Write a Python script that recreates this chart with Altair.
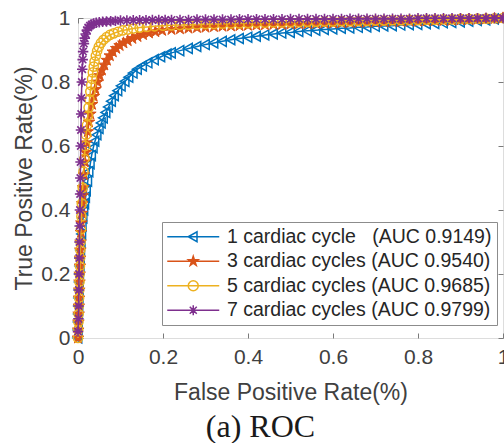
import altair as alt
import pandas as pd

# ---- series names, AUC values and colours ----
SERIES = ["1 cardiac cycle", "3 cardiac cycles", "5 cardiac cycles", "7 cardiac cycles"]
AUC = ["0.9149", "0.9540", "0.9685", "0.9799"]
GAP = ["\u00a0\u00a0\u00a0", " ", " ", " "]
COLORS = ["#0072BD", "#D95319", "#EDB120", "#7E2F8E"]
TICKS = [0, 0.2, 0.4, 0.6, 0.8, 1]

# ---- ROC points: steep/knee section of each curve ----
FPR_1 = [0, 0.0005, 0.001, 0.0015, 0.002, 0.0025, 0.003, 0.0035, 0.004, 0.005,
         0.0055, 0.0065, 0.0075, 0.009, 0.010, 0.012, 0.014, 0.016, 0.018, 0.020,
         0.023, 0.026, 0.029, 0.032, 0.036, 0.040, 0.045, 0.050, 0.055, 0.060,
         0.066, 0.072, 0.079, 0.086, 0.094, 0.102, 0.111, 0.120, 0.130, 0.140,
         0.152, 0.165, 0.180, 0.195, 0.210]
TPR_1 = [0, 0.025, 0.05, 0.075, 0.10, 0.125, 0.15, 0.175, 0.20, 0.225,
         0.25, 0.275, 0.30, 0.325, 0.35, 0.375, 0.40, 0.42, 0.44, 0.46,
         0.49, 0.52, 0.545, 0.57, 0.595, 0.615, 0.635, 0.655, 0.672, 0.688,
         0.705, 0.722, 0.74, 0.757, 0.773, 0.788, 0.802, 0.815, 0.828, 0.84,
         0.85, 0.86, 0.87, 0.879, 0.887]

FPR_3 = [0, 0.0005, 0.001, 0.0015, 0.002, 0.0025, 0.003, 0.0035, 0.004, 0.0045,
         0.005, 0.0055, 0.006, 0.007, 0.008, 0.009, 0.010, 0.011, 0.012, 0.014,
         0.016, 0.018, 0.020, 0.023, 0.026, 0.029, 0.033, 0.037, 0.041, 0.046,
         0.051, 0.056, 0.062, 0.068, 0.075, 0.082, 0.090, 0.098, 0.107, 0.117,
         0.128, 0.140, 0.153, 0.167, 0.182, 0.198]
TPR_3 = [0, 0.025, 0.05, 0.075, 0.10, 0.125, 0.15, 0.175, 0.20, 0.225,
         0.25, 0.275, 0.30, 0.33, 0.36, 0.39, 0.42, 0.445, 0.47, 0.51,
         0.55, 0.58, 0.61, 0.645, 0.675, 0.70, 0.73, 0.755, 0.777, 0.80,
         0.82, 0.837, 0.853, 0.868, 0.882, 0.894, 0.905, 0.914, 0.922, 0.929,
         0.936, 0.942, 0.948, 0.953, 0.957, 0.961]

FPR_5 = [0, 0.0005, 0.001, 0.0015, 0.002, 0.0025, 0.003, 0.0035, 0.004, 0.0045,
         0.005, 0.0055, 0.006, 0.007, 0.008, 0.009, 0.011, 0.013, 0.015, 0.017,
         0.019, 0.021, 0.023, 0.025, 0.027, 0.029, 0.031, 0.033, 0.035, 0.037,
         0.039, 0.042, 0.045, 0.049, 0.054, 0.060, 0.067, 0.075, 0.084, 0.094,
         0.105, 0.117, 0.130, 0.145, 0.162, 0.180, 0.200]
TPR_5 = [0, 0.025, 0.05, 0.075, 0.10, 0.125, 0.15, 0.175, 0.20, 0.225,
         0.25, 0.275, 0.30, 0.34, 0.38, 0.42, 0.47, 0.52, 0.56, 0.60,
         0.635, 0.665, 0.695, 0.72, 0.745, 0.77, 0.79, 0.81, 0.83, 0.848,
         0.864, 0.882, 0.897, 0.91, 0.922, 0.932, 0.94, 0.947, 0.952, 0.957,
         0.961, 0.964, 0.967, 0.97, 0.972, 0.974, 0.976]

FPR_7 = [0, 0.001, 0.0015, 0.002, 0.0025, 0.003, 0.0035, 0.004, 0.0045, 0.005,
         0.0055, 0.006, 0.0065, 0.007, 0.0075, 0.008, 0.009, 0.010, 0.011, 0.012,
         0.014, 0.016, 0.018, 0.021, 0.024, 0.028, 0.032, 0.037, 0.043, 0.050,
         0.058, 0.067, 0.077, 0.088, 0.100, 0.115, 0.130, 0.145, 0.160, 0.175,
         0.190, 0.205]
TPR_7 = [0.02, 0.06, 0.10, 0.15, 0.20, 0.25, 0.30, 0.35, 0.40, 0.45,
         0.50, 0.55, 0.60, 0.65, 0.70, 0.75, 0.80, 0.84, 0.87, 0.895,
         0.92, 0.937, 0.95, 0.962, 0.970, 0.976, 0.980, 0.983, 0.985, 0.987,
         0.988, 0.989, 0.990, 0.991, 0.992, 0.992, 0.993, 0.993, 0.993, 0.994,
         0.994, 0.994]

# ---- flat upper section, shared false-positive grid ----
TAIL_FPR = [0.22, 0.24, 0.26, 0.28, 0.30, 0.32, 0.34, 0.36, 0.38, 0.40,
            0.42, 0.44, 0.46, 0.48, 0.50, 0.52, 0.54, 0.56, 0.58, 0.60,
            0.62, 0.64, 0.66, 0.68, 0.70, 0.72, 0.74, 0.76, 0.78, 0.80,
            0.82, 0.84, 0.86, 0.88, 0.90, 0.92, 0.94, 0.96, 0.98, 1.00]
TAIL_TPR_1 = [0.891, 0.898, 0.905, 0.911, 0.917, 0.922, 0.927, 0.932, 0.936, 0.940,
              0.943, 0.947, 0.950, 0.953, 0.955, 0.958, 0.960, 0.962, 0.964, 0.966,
              0.968, 0.969, 0.971, 0.972, 0.974, 0.975, 0.976, 0.978, 0.979, 0.980,
              0.982, 0.983, 0.985, 0.986, 0.988, 0.990, 0.992, 0.994, 0.997, 1.000]
TAIL_TPR_3 = [0.964, 0.966, 0.968, 0.970, 0.971, 0.973, 0.974, 0.975, 0.976, 0.977,
              0.978, 0.979, 0.980, 0.980, 0.981, 0.982, 0.982, 0.983, 0.984, 0.984,
              0.985, 0.986, 0.986, 0.987, 0.987, 0.988, 0.989, 0.989, 0.990, 0.990,
              0.991, 0.992, 0.992, 0.993, 0.994, 0.995, 0.996, 0.997, 0.998, 1.000]
TAIL_TPR_5 = [0.977, 0.978, 0.979, 0.980, 0.981, 0.981, 0.982, 0.983, 0.983, 0.984,
              0.985, 0.985, 0.986, 0.986, 0.987, 0.987, 0.988, 0.988, 0.989, 0.989,
              0.990, 0.990, 0.991, 0.991, 0.992, 0.992, 0.993, 0.993, 0.994, 0.994,
              0.995, 0.995, 0.996, 0.996, 0.997, 0.997, 0.998, 0.998, 0.999, 1.000]
TAIL_TPR_7 = [0.994, 0.994, 0.994, 0.995, 0.995, 0.995, 0.995, 0.995, 0.996, 0.996,
              0.996, 0.996, 0.996, 0.996, 0.997, 0.997, 0.997, 0.997, 0.997, 0.997,
              0.997, 0.998, 0.998, 0.998, 0.998, 0.998, 0.998, 0.998, 0.998, 0.999,
              0.999, 0.999, 0.999, 0.999, 0.999, 0.999, 0.999, 1.000, 1.000, 1.000]

HEADS = [(FPR_1, TPR_1), (FPR_3, TPR_3), (FPR_5, TPR_5), (FPR_7, TPR_7)]
TAILS = [TAIL_TPR_1, TAIL_TPR_3, TAIL_TPR_5, TAIL_TPR_7]

LABELS = [f"{s}{g}(AUC {a})" for s, g, a in zip(SERIES, GAP, AUC)]

rows = []
for label, (hf, ht), tt in zip(LABELS, HEADS, TAILS):
    for k, (f, t) in enumerate(zip(hf + TAIL_FPR, ht + tt)):
        rows.append({"series": label, "fpr": f, "tpr": t, "idx": k})
df = pd.DataFrame(rows)

# ---- marker glyphs (unit-square SVG paths) ----
TRI = "M-1,0L0.75,-1L0.75,1Z"
STAR = ("M0,-1L0.225,-0.309L0.951,-0.309L0.363,0.118L0.588,0.809L0,0.382"
        "L-0.588,0.809L-0.363,0.118L-0.951,-0.309L-0.225,-0.309Z")
STAR_IN = ("M0,-0.5L0.11,-0.15L0.48,-0.15L0.18,0.06L0.29,0.4L0,0.19"
           "L-0.29,0.4L-0.18,0.06L-0.48,-0.15L-0.11,-0.15Z")
CIRC = "M1,0A1,1 0 1,1 -1,0A1,1 0 1,1 1,0Z"
AST = "M0,-1V1M-1,0H1M-0.7,-0.7L0.7,0.7M-0.7,0.7L0.7,-0.7"
SEG = "M-5.2,0H5.2"
LEGEND_SHAPES = [SEG + TRI, SEG + STAR + STAR_IN, SEG + CIRC, SEG + AST]

MARKS = [
    dict(shape=TRI, size=100, filled=False, strokeWidth=1.5),
    dict(shape=STAR, size=150, filled=True, strokeWidth=1.0),
    dict(shape="circle", size=85, filled=False, strokeWidth=1.5),
    dict(shape=AST, size=110, filled=False, strokeWidth=1.6),
]

SANS = "Liberation Sans"
GRID = "#7a7a7a"
unit = alt.Scale(domain=[0, 1], nice=False, zero=False)

x_axis = alt.Axis(orient="bottom", values=TICKS, format="~g", labelFlush=False,
                  labelOverlap=False, ticks=False, tickSize=0, domain=False,
                  grid=True, gridDash=[5, 2000], gridColor=GRID, gridWidth=1,
                  labelFont=SANS, labelFontSize=21, labelColor="#404040",
                  labelPadding=8, title="False Positive Rate(%)", titleFont=SANS,
                  titleFontSize=23, titleFontWeight="normal", titleColor="#404040",
                  titleY=61, titleBaseline="alphabetic")
y_axis = alt.Axis(orient="left", values=TICKS, format="~g", labelFlush=False,
                  labelOverlap=False, ticks=False, tickSize=0, domain=False,
                  grid=True, gridDash=[5, 2000], gridColor=GRID, gridWidth=1,
                  labelFont=SANS, labelFontSize=21, labelColor="#404040",
                  labelPadding=8, title="True Positive Rate(%)", titleFont=SANS,
                  titleFontSize=23, titleFontWeight="normal", titleColor="#404040",
                  titleX=-47, titleBaseline="alphabetic")
top_axis = alt.Axis(orient="top", values=TICKS, labels=False, ticks=False,
                    domain=False, grid=True, gridDash=[5, 2000], gridColor=GRID,
                    gridWidth=1, title=None)
right_axis = alt.Axis(orient="right", values=TICKS, labels=False, ticks=False,
                      domain=False, grid=True, gridDash=[5, 2000], gridColor=GRID,
                      gridWidth=1, title=None)

base = alt.Chart(df)
layers = []
for i, label in enumerate(LABELS):
    xa = x_axis if i == 0 else None
    ya = y_axis if i == 0 else None
    sub = base.transform_filter(alt.datum.series == label)
    line = sub.mark_line(color=COLORS[i], strokeWidth=1.5).encode(
        x=alt.X("fpr:Q", scale=unit, axis=xa),
        y=alt.Y("tpr:Q", scale=unit, axis=ya),
        order="idx:Q",
    )
    m = MARKS[i]
    pts = sub.mark_point(
        shape=m["shape"], size=m["size"], filled=m["filled"],
        color=COLORS[i], stroke=COLORS[i], strokeWidth=m["strokeWidth"], opacity=1,
    ).encode(
        x=alt.X("fpr:Q", scale=unit, axis=None),
        y=alt.Y("tpr:Q", scale=unit, axis=None),
    )
    layers += [line, pts]

# legend + mirrored box ticks (no marks drawn by this layer)
legend = alt.Legend(orient="none", legendX=84, legendY=204, title=None,
                    symbolSize=100, symbolStrokeWidth=1.5, symbolOffset=16.5,
                    labelOffset=24, labelFont=SANS, labelFontSize=19.5,
                    labelColor="#262626", labelLimit=400, padding=5,
                    rowPadding=3.5, strokeColor="#8c8c8c", fillColor="white")
key = base.transform_filter("false").mark_point(filled=False, opacity=1).encode(
    x=alt.X("fpr:Q", scale=unit, axis=top_axis),
    y=alt.Y("tpr:Q", scale=unit, axis=right_axis),
    color=alt.Color("series:N", scale=alt.Scale(domain=LABELS, range=COLORS), legend=legend),
    shape=alt.Shape("series:N", scale=alt.Scale(domain=LABELS, range=LEGEND_SHAPES), legend=legend),
)
layers.append(key)

chart = alt.layer(*layers).properties(
    width=425,
    height=320,
    padding={"left": 78, "top": 18, "right": 1, "bottom": 105},
    autosize=alt.AutoSizeParams(type="none"),
    title=alt.TitleParams("(a) ROC", orient="bottom", anchor="middle",
                          font="Liberation Serif", fontSize=32, fontWeight="normal",
                          color="#1a1a1a", offset=8, dx=-30, baseline="top"),
).configure_view(stroke=GRID, strokeWidth=1).configure(background="white")

chart.save("out.html", embed_options={"renderer": "svg", "actions": False})
